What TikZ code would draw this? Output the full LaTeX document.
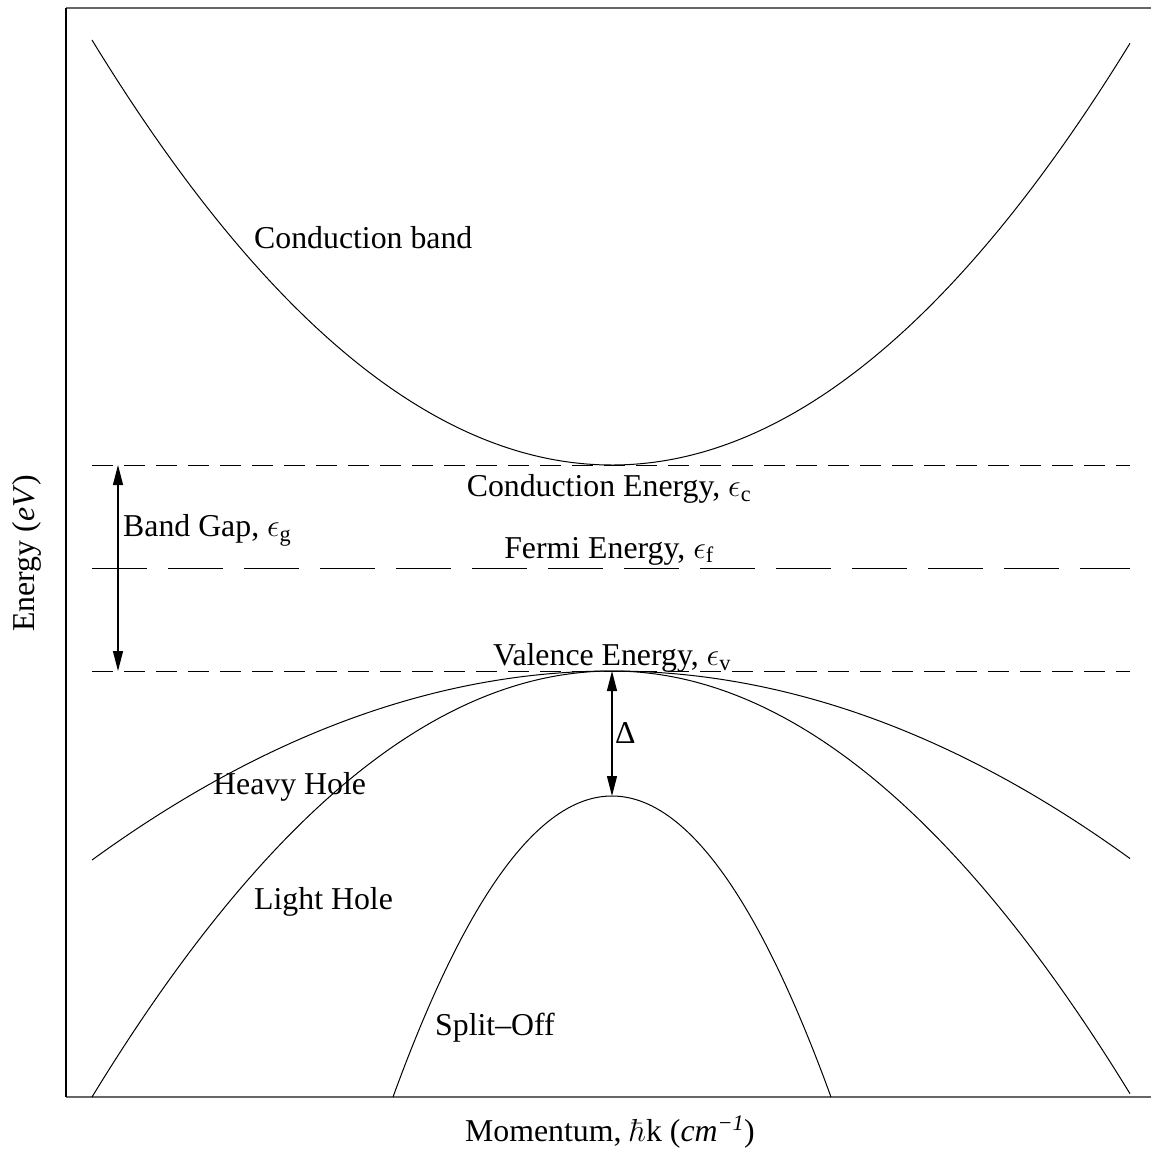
\RequirePackage{fix-cm}
\documentclass[tikz,border=0pt]{standalone}
\usepackage[no-math]{fontspec}
\setmainfont{Liberation Serif}
\usetikzlibrary{arrows.meta}
\begin{document}
\begin{tikzpicture}[x=1pt,y=-1pt,
  band/.style={line width=1pt},
  level/.style={line width=1pt, dash pattern=on 21pt off 11pt},
  fermi/.style={line width=1pt, dash pattern=on 55pt off 21pt},
  gaparrow/.style={line width=1.2pt, {Triangle[length=20pt,width=10pt]}-{Triangle[length=20pt,width=10pt]}},
  lbl/.style={font=\fontsize{31.8}{38}\selectfont, inner sep=0pt}]
\useasboundingbox (0,0) rectangle (1151,1149);
% frame
\draw[line width=1.3pt, black!60] (66,8) -- (1151,8);
\draw[line width=1.3pt, black!60] (66,1097) -- (1151,1097);
\draw[line width=1.2pt] (66,8) -- (66,1097);
% bands
\draw[band] plot[domain=92:1130, samples=200] (\x, {465-425*((\x-612)/520)^2});
\draw[band] plot[domain=92:1130, samples=200] (\x, {671+189*((\x-612)/520)^2});
\draw[band] plot[domain=92:1130, samples=200] (\x, {671+426*((\x-612)/520)^2});
\draw[band] plot[domain=393:831, samples=150] (\x, {796+301*((\x-612)/219)^2});
% levels
\coordinate (cL) at (92,465); \coordinate (cR) at (1130,465);
\coordinate (fL) at (92,568); \coordinate (fR) at (1130,568);
\coordinate (vL) at (92,671); \coordinate (vR) at (1130,671);
\draw[level] (cL) -- (cR);
\draw[fermi] (fL) -- (fR);
\draw[level] (vL) -- (vR);
% arrows
\coordinate (gTop) at (118,465); \coordinate (gBot) at (118,671);
\draw[gaparrow] (gTop) -- (gBot);
\coordinate (dTop) at (612,671); \coordinate (dBot) at (612,796);
\draw[gaparrow] (dTop) -- (dBot);
% labels
\node[lbl, anchor=west] (cb) at (254,238) {Conduction band};
\node[lbl, anchor=west] (hh) at (213,787) {Heavy Hole};
\node[lbl, anchor=west] (lh) at (254,902) {Light Hole};
\node[lbl, anchor=west] (so) at (435,1028) {Split\textendash Off};
\node[lbl, anchor=west] (bg) at (123,530) {Band Gap, $\epsilon$\textsubscript{g}};
\node[lbl] (ce) at (609,489) {Conduction Energy, $\epsilon$\textsubscript{c}};
\node[lbl] (fe) at (609,551) {Fermi Energy, $\epsilon$\textsubscript{f}};
\node[lbl] (ve) at (612,658) {Valence Energy, $\epsilon$\textsubscript{v}};
\node[lbl, anchor=west] (dl) at (615,733) {Δ};
\node[lbl] (xl) at (610,1132) {Momentum, $\hbar$k (\textit{cm}\textsuperscript{\textit{−1}})};
\node[lbl, rotate=90] (yl) at (27,553) {Energy (\textit{eV})};
\end{tikzpicture}
\end{document}
